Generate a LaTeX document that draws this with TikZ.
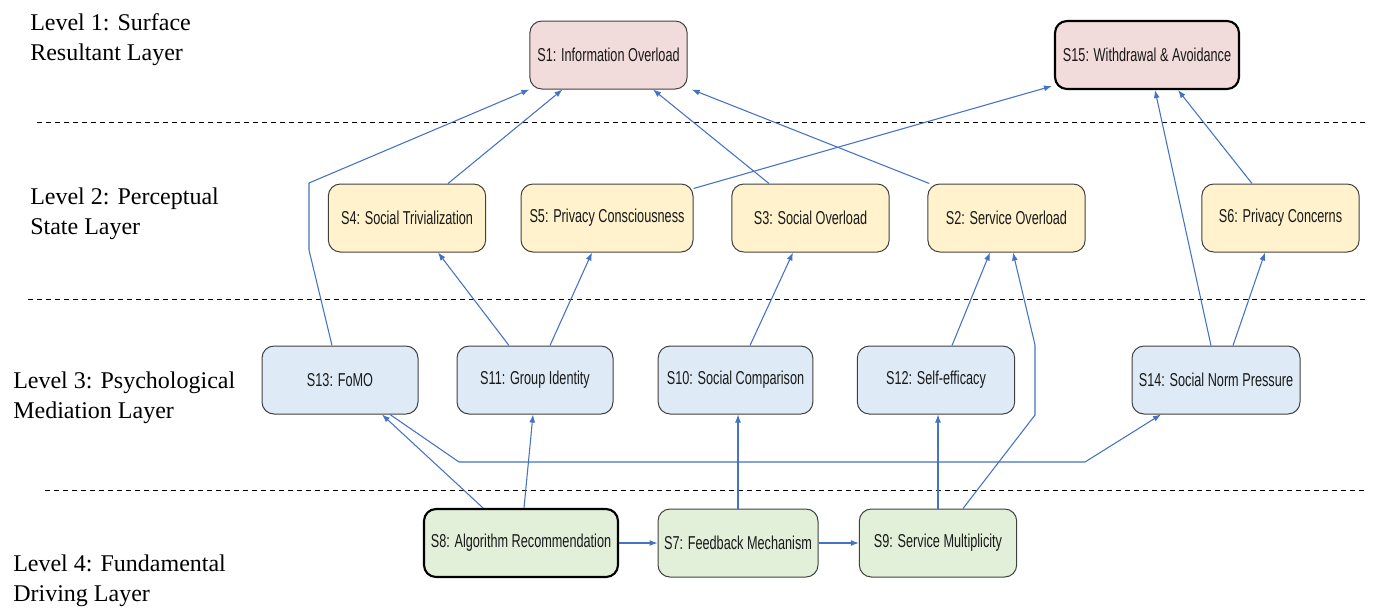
\documentclass[tikz,border=0pt]{standalone}
\usepackage{fontspec}
\setmainfont{Liberation Serif}
\newfontfamily\boxfont[FakeStretch=0.68]{Liberation Sans}
\usetikzlibrary{arrows.meta,calc}

\definecolor{pinkfill}{RGB}{242,220,219}
\definecolor{yellowfill}{RGB}{255,242,204}
\definecolor{bluefill}{RGB}{222,235,247}
\definecolor{greenfill}{RGB}{226,240,217}
\definecolor{linkblue}{RGB}{68,114,196}

\begin{document}
\begin{tikzpicture}[x=0.75pt,y=0.75pt,yscale=-1,xscale=1,
    sbox/.style={draw=black!75,line width=0.75pt,rounded corners=9pt,minimum width=118pt,minimum height=51pt,inner sep=0pt,font=\boxfont\fontsize{14}{16}\selectfont,text=black!90},
    resultbox/.style={sbox,fill=pinkfill},
    perceptbox/.style={sbox,fill=yellowfill},
    mediatebox/.style={sbox,fill=bluefill},
    drivebox/.style={sbox,fill=greenfill},
    keybox/.style={draw=black,line width=1.6pt},
    link/.style={draw=linkblue,line width=0.8pt,-{Latex[length=6pt,width=4.5pt]}},
    layerline/.style={dash pattern=on 3.75pt off 3pt,line width=0.6pt},
    layertext/.style={anchor=west,inner sep=0pt,align=left,font=\fontsize{18}{22.5}\selectfont}]

    \useasboundingbox (0,0) rectangle (1374,608);

    % layer separators
    \draw[layerline] (37,122) -- (1366,122);
    \draw[layerline] (28,299) -- (1366,299);
    \draw[layerline] (45,490) -- (1366,490);

    % layer titles
    \node[layertext] (L1) at (30,40) {Level 1: Surface\\Resultant Layer};
    \node[layertext] (L2) at (30,214) {Level 2: Perceptual\\State Layer};
    \node[layertext] (L3) at (13,398) {Level 3: Psychological\\Mediation Layer};
    \node[layertext] (L4) at (13,581) {Level 4: Fundamental\\Driving Layer};

    % level 1
    \node[resultbox] (S1) at (608.5,55) {S1: Information Overload};
    \node[resultbox,keybox,minimum width=138pt] (S15) at (1147,55) {S15: Withdrawal \& Avoidance};

    % level 2
    \node[perceptbox] (S4) at (407,218) {S4: Social Trivialization};
    \node[perceptbox,minimum width=129pt] (S5) at (607,218) {S5: Privacy Consciousness};
    \node[perceptbox] (S3) at (810.5,218) {S3: Social Overload};
    \node[perceptbox] (S2) at (1006.5,218) {S2: Service Overload};
    \node[perceptbox] (S6) at (1280.5,218) {S6: Privacy Concerns};

    % level 3
    \node[mediatebox,minimum width=117pt] (S13) at (340,380) {S13: FoMO};
    \node[mediatebox,minimum width=117pt] (S11) at (535,380) {S11: Group Identity};
    \node[mediatebox,minimum width=116pt] (S10) at (735.5,380) {S10: Social Comparison};
    \node[mediatebox] (S12) at (936,380) {S12: Self-efficacy};
    \node[mediatebox,minimum width=126pt] (S14) at (1216,380) {S14: Social Norm Pressure};

    % level 4
    \node[drivebox,keybox,minimum width=145.5pt] (S8) at (521,543) {S8: Algorithm Recommendation};
    \node[drivebox,minimum width=120pt] (S7) at (738,543) {S7: Feedback Mechanism};
    \node[drivebox] (S9) at (938,543) {S9: Service Multiplicity};

    % links to level 1
    \draw[link] ($(S13.north)+(-8,0)$) -- (309,250) -- (309,183) -- (S1.south west);
    \draw[link] ($(S4.north)+(41,0)$) -- ($(S1.south)+(-46,0)$);
    \draw[link] ($(S3.north)+(-41.5,0)$) -- ($(S1.south)+(44.5,0)$);
    \draw[link] ($(S2.north west)+(2,0)$) -- ($(S1.south east)+(4,0)$);
    \draw[link] ($(S5.north east)+(0,5)$) -- ($(S15.south west)+(-2,-4)$);
    \draw[link] ($(S14.north)+(-5,0)$) -- ($(S15.south)+(8,0)$);
    \draw[link] ($(S6.north)+(-28.5,0)$) -- ($(S15.south)+(31,0)$);

    % links to level 2
    \draw[link] ($(S11.north)+(-26,0)$) -- ($(S4.south)+(31,0)$);
    \draw[link] ($(S11.north)+(15,0)$) -- ($(S5.south)+(-15,0)$);
    \draw[link] ($(S10.north)+(14.5,0)$) -- ($(S3.south)+(-17.5,0)$);
    \draw[link] ($(S12.north)+(16,0)$) -- ($(S2.south)+(-16.5,0)$);
    \draw[link] ($(S14.north)+(17,0)$) -- ($(S6.south)+(-15.5,0)$);
    \draw[link] ($(S9.north)+(25,0)$) -- (1035,415) -- (1035,345) -- ($(S2.south)+(6.5,0)$);

    % links to level 3
    \draw[link] (S9.north) -- (S9.north |- S12.south);
    \draw[link] (S7.north) -- (S7.north |- S10.south);
    \draw[link] ($(S8.north)+(3,0)$) -- ($(S11.south)+(-2,0)$);
    \draw[link] ($(S8.north)+(-38,0)$) -- ($(S13.south)+(42,0)$);
    \draw[link] ($(S13.south)+(50,0)$) -- (459,462) -- (1085,462) -- ($(S14.south)+(-55,0)$);

    % level 4 chain
    \draw[link] (S8.east) -- (S7.west);
    \draw[link] (S7.east) -- (S9.west);

\end{tikzpicture}
\end{document}
